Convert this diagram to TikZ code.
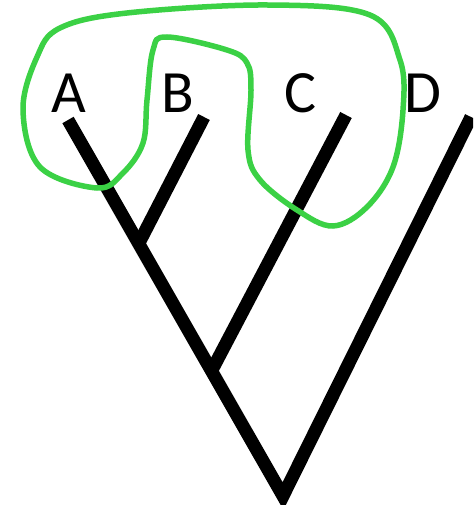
\documentclass[tikz,border=0pt]{standalone}
\usepackage{fontspec}
\setmainfont{Carlito}
\begin{document}
\begin{tikzpicture}[x=1pt,y=-1pt]
        \tikzstyle{taxon}=[font=\fontsize{60}{60}\selectfont,inner sep=0pt]
        \tikzstyle{branch}=[line width=13pt,line cap=butt]
        \tikzstyle{clade}=[line width=5.5pt,draw={rgb,255:red,59;green,209;blue,69}]
        \useasboundingbox (0,0) rectangle (473,505);
        \clip (0,0) rectangle (473,505);
        \node[taxon] (a) at (69,93) {A};
        \node[taxon] (b) at (178,93) {B};
        \node[taxon] (c) at (300,93) {C};
        \node[taxon] (d) at (423,93) {D};
        \coordinate (root) at (283,496);
        \coordinate (ta) at (68,120);
        \coordinate (tb) at (204,117);
        \coordinate (tc) at (346,115);
        \coordinate (td) at (471,117);
        \coordinate (jb) at (139,243);
        \coordinate (jc) at (212,370);
        \draw[branch] (ta) -- (root) -- (td);
        \draw[branch] (tb) -- (jb);
        \draw[branch] (tc) -- (jc);
        \draw[clade] plot[smooth cycle,tension=0.6] coordinates {
          (97,188) (40,167) (23,110) (37,57) (60,28) (127,13) (267,5)
          (370,15) (400,60) (403,110) (393,167) (367,207) (333,226)
          (297,210) (260,180) (248,150) (251,90) (247,63) (227,50)
          (167,37) (153,50) (147,100) (143,143) (123,173)};
\end{tikzpicture}
\end{document}
